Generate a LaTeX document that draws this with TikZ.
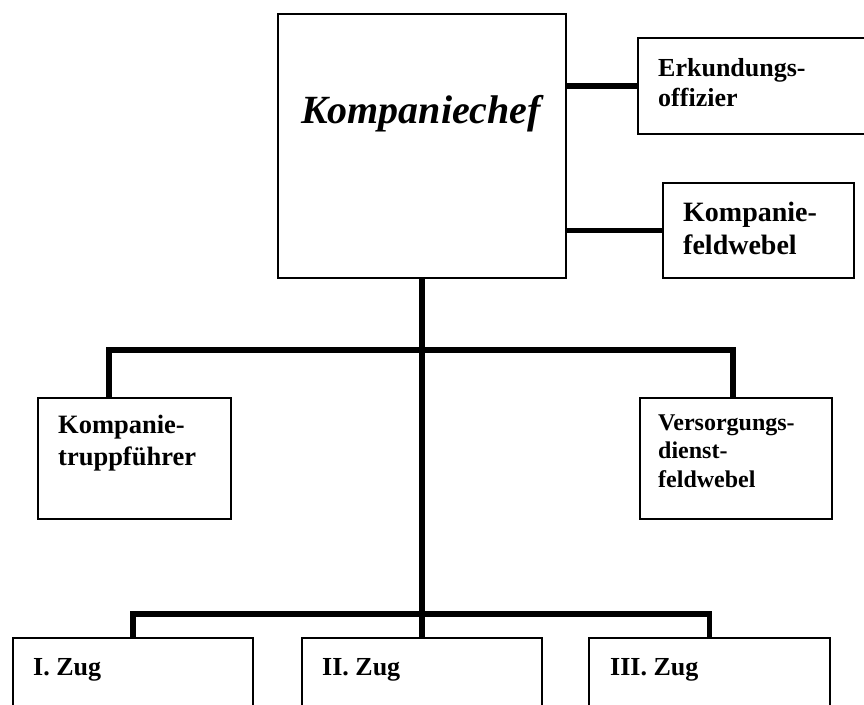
\documentclass[tikz,border=0pt]{standalone}
\usepackage{fontspec}
\setmainfont{Liberation Serif}
\begin{document}
\begin{tikzpicture}[x=1pt,y=-1pt,
  box/.style={draw=black, line width=1.5pt, fill=white, anchor=north west, inner sep=0pt},
  conn/.style={line width=5.5pt},
  lbl/.style={anchor=base west, inner sep=0pt, font=\bfseries\fontsize{#1}{#1}\selectfont},
  lbl/.default=26]
\useasboundingbox (0,0) rectangle (864,704);
\clip (0,0) rectangle (864,704);

% boxes
\node[box, minimum width=288pt, minimum height=264pt] (chef) at (277,13) {};
\node[box, minimum width=240pt, minimum height=96pt]  (erk)  at (637,37) {};
\node[box, minimum width=191pt, minimum height=95pt]  (feld) at (662,182) {};
\node[box, minimum width=193pt, minimum height=121pt] (trupp) at (37,397) {};
\node[box, minimum width=192pt, minimum height=121pt] (vers) at (639,397) {};
\node[box, minimum width=240pt, minimum height=100pt] (zug1) at (12,637) {};
\node[box, minimum width=240pt, minimum height=100pt] (zug2) at (301,637) {};
\node[box, minimum width=241pt, minimum height=100pt] (zug3) at (588,637) {};

% junction points of the distribution bars
\coordinate (bar1) at (chef.south |- 0,350);
\coordinate (bar2) at (chef.south |- 0,614);
\coordinate (truppTop) at ([xshift=72pt]trupp.north west);
\coordinate (versTop)  at ([xshift=94pt]vers.north west);

% connectors
\draw[conn] (chef.east |- erk.west) -- (erk.west);
\draw[conn] (chef.east |- feld.west) -- (feld.west);
\draw[conn] (chef.south) -- (zug2.north);
\draw[conn] (truppTop) |- (bar1) -| (versTop);
\draw[conn] (zug1.north) |- (bar2) -| (zug3.north);

% labels
\node[anchor=base, inner sep=0pt, font=\bfseries\itshape\fontsize{40}{40}\selectfont] (chefT) at (421,123) {Kompaniechef};

\node[lbl=26] (erkA) at (658,76)  {Erkundungs-};
\node[lbl=26] (erkB) at (658,106) {offizier};

\node[lbl=28] (feldA) at (683,221) {Kompanie-};
\node[lbl=28] (feldB) at (683,254) {feldwebel};

\node[lbl=26.5] (truppA) at (58,433) {Kompanie-};
\node[lbl=26.5] (truppB) at (58,465) {truppführer};

\node[lbl=24] (versA) at (658,430) {Versorgungs-};
\node[lbl=24] (versB) at (658,458) {dienst-};
\node[lbl=24] (versC) at (658,487) {feldwebel};

\node[lbl=26] (zugA) at (33,675)  {I. Zug};
\node[lbl=26] (zugB) at (322,675) {II. Zug};
\node[lbl=26] (zugC) at (610,675) {III. Zug};
\end{tikzpicture}
\end{document}
